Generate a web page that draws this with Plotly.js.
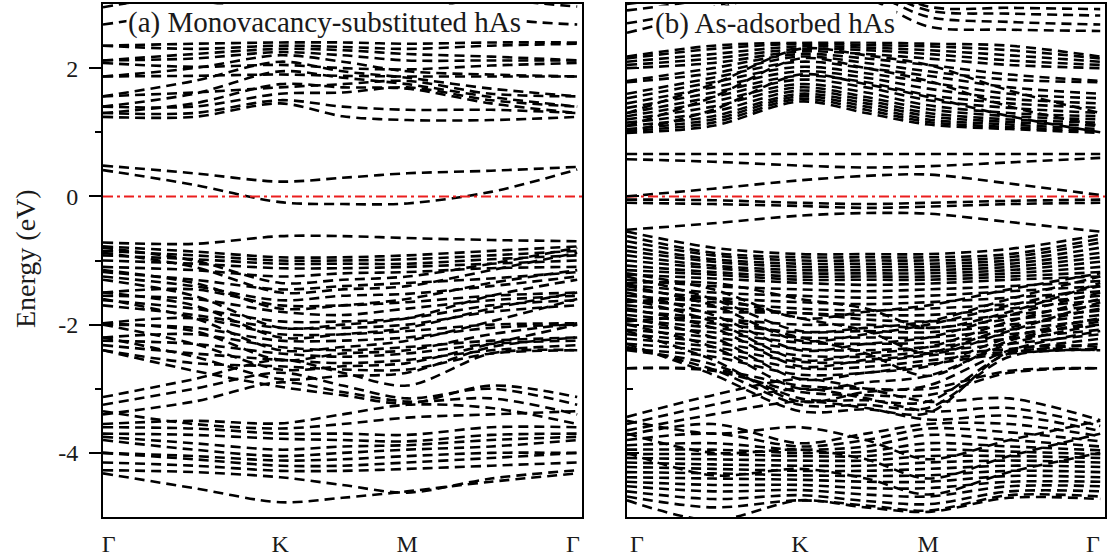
<!DOCTYPE html>
<html>
<head>
<meta charset="utf-8">
<script src="https://cdn.plot.ly/plotly-3.0.1.min.js"></script>
<style>html,body{margin:0;padding:0;background:#fff;}#chart{width:1112px;height:560px;}</style>
</head>
<body>
<div id="chart"></div>
<script>
// k-path sample points: [Γ, Γ-K, K, K-M, M, M-Γ, Γ]
const kPathA = [0, 0.19, 0.37, 0.50, 0.635, 0.81, 0.99];
const kPathB = [0, 0.18, 0.362, 0.50, 0.63, 0.80, 0.99];
const kLabels = ['Γ', 'K', 'M', 'Γ'];
const kTickA = [0.012, 0.37, 0.635, 0.981];
const kTickB = [0.021, 0.362, 0.63, 0.975];
const eTicks = [-4, -2, 0, 2];
const eTickLabels = ['-4', '-2', '0', '2'];
const fermi = [0, 0];

// (a) Monovacancy-substituted hAs — energies (eV) at the 7 k-points
const condA = [
  [1.24,1.24,1.45,1.25,1.19,1.19,1.24],
  [1.30,1.30,1.50,1.40,1.35,1.35,1.30],
  [1.30,1.45,1.75,1.70,1.68,1.45,1.30],
  [1.40,1.40,1.60,1.62,1.70,1.50,1.40],
  [1.40,1.60,1.95,1.85,1.75,1.55,1.40],
  [1.56,1.62,1.70,1.75,1.80,1.60,1.56],
  [1.56,1.80,2.10,1.95,1.85,1.68,1.56],
  [1.87,1.88,1.90,1.88,1.87,1.87,1.87],
  [1.87,2.00,2.20,2.10,1.95,1.90,1.87],
  [2.08,2.02,2.05,2.00,1.98,2.04,2.08],
  [2.12,2.15,2.25,2.20,2.12,2.12,2.12],
  [2.12,2.22,2.30,2.28,2.22,2.18,2.12],
  [2.35,2.30,2.35,2.33,2.30,2.35,2.38],
  [2.35,2.38,2.40,2.40,2.38,2.40,2.40],
  [2.68,2.90,3.20,3.30,3.20,2.80,2.68],
  [2.95,3.20,3.50,3.50,3.40,3.10,2.96]
];
const gapA = [
  [0.48,0.36,0.23,0.29,0.36,0.40,0.46],
  [0.41,0.18,-0.09,-0.12,-0.11,0.07,0.42]
];
const valA = [
  [-0.72,-0.74,-0.62,-0.62,-0.65,-0.68,-0.70],
  [-0.78,-0.86,-0.95,-0.95,-0.92,-0.85,-0.78],
  [-0.85,-0.92,-1.00,-1.00,-0.98,-0.92,-0.85],
  [-0.92,-0.98,-1.05,-1.05,-1.05,-0.98,-0.92],
  [-1.00,-1.05,-1.12,-1.12,-1.10,-1.05,-1.00],
  [-1.10,-1.15,-1.25,-1.20,-1.18,-1.12,-1.10],
  [-0.80,-1.00,-1.35,-1.30,-1.25,-1.05,-0.80],
  [-0.88,-1.10,-1.50,-1.45,-1.40,-1.15,-0.88],
  [-1.18,-1.30,-1.45,-1.40,-1.35,-1.28,-1.18],
  [-1.25,-1.40,-1.62,-1.55,-1.52,-1.40,-1.25],
  [-1.50,-1.45,-1.70,-1.70,-1.65,-1.55,-1.50],
  [-1.55,-1.60,-1.80,-1.85,-1.75,-1.62,-1.55],
  [-1.62,-1.75,-1.95,-1.95,-1.90,-1.70,-1.62],
  [-1.70,-1.85,-2.05,-2.05,-2.00,-1.80,-1.70],
  [-1.98,-1.90,-2.15,-2.15,-2.10,-2.00,-1.98],
  [-2.00,-2.05,-2.25,-2.25,-2.20,-2.05,-2.00],
  [-2.20,-2.15,-2.35,-2.40,-2.35,-2.25,-2.20],
  [-2.25,-2.30,-2.45,-2.50,-2.45,-2.30,-2.25],
  [-2.32,-2.45,-2.55,-2.60,-2.55,-2.40,-2.32],
  [-2.40,-2.60,-2.65,-2.70,-2.70,-2.45,-2.40],
  [-1.15,-1.35,-1.75,-1.70,-1.60,-1.35,-1.15],
  [-1.30,-1.55,-2.05,-2.00,-1.90,-1.55,-1.30],
  [-1.50,-1.70,-2.20,-2.15,-2.05,-1.75,-1.50],
  [-1.60,-1.90,-2.40,-2.35,-2.25,-1.95,-1.60],
  [-1.98,-2.10,-2.55,-2.45,-2.40,-2.15,-1.98],
  [-2.00,-2.30,-2.70,-2.65,-2.60,-2.30,-2.00],
  [-2.20,-2.50,-2.85,-2.80,-2.75,-2.35,-2.20],
  [-2.40,-2.72,-2.97,-3.10,-3.23,-2.95,-3.13],
  [-3.13,-2.85,-2.55,-2.75,-2.95,-2.45,-2.40],
  [-3.25,-3.00,-2.75,-2.95,-3.15,-3.00,-3.25],
  [-3.40,-3.20,-2.90,-3.05,-3.20,-3.15,-3.40],
  [-3.55,-3.50,-3.54,-3.40,-3.25,-3.30,-3.55],
  [-3.35,-3.55,-3.62,-3.55,-3.45,-3.40,-3.35],
  [-3.60,-3.62,-3.70,-3.70,-3.72,-3.60,-3.60],
  [-3.70,-3.72,-3.78,-3.80,-3.82,-3.72,-3.70],
  [-3.75,-3.85,-3.95,-3.90,-3.88,-3.80,-3.75],
  [-3.80,-3.95,-4.05,-4.00,-3.95,-3.90,-3.80],
  [-4.00,-4.05,-4.12,-4.10,-4.05,-4.00,-4.00],
  [-4.00,-4.10,-4.20,-4.20,-4.15,-4.08,-4.00],
  [-4.15,-4.20,-4.28,-4.28,-4.25,-4.20,-4.15],
  [-4.27,-4.30,-4.38,-4.50,-4.62,-4.40,-4.27],
  [-4.32,-4.55,-4.77,-4.70,-4.60,-4.45,-4.32]
];

// (b) As-adsorbed hAs
const condB = [
  [0.99,1.10,1.48,1.30,1.12,1.05,0.99],
  [1.02,1.15,1.52,1.35,1.16,1.08,1.02],
  [1.05,1.20,1.56,1.40,1.20,1.12,1.05],
  [1.10,1.25,1.60,1.45,1.25,1.16,1.10],
  [1.15,1.32,1.65,1.50,1.30,1.20,1.15],
  [1.20,1.40,1.70,1.55,1.36,1.25,1.20],
  [1.25,1.48,1.75,1.62,1.42,1.30,1.25],
  [1.30,1.55,1.82,1.70,1.50,1.38,1.30],
  [1.38,1.62,1.88,1.78,1.58,1.45,1.38],
  [1.45,1.70,1.95,1.85,1.68,1.52,1.45],
  [1.53,1.78,2.02,1.92,1.78,1.60,1.53],
  [1.60,1.85,2.10,2.00,1.88,1.70,1.60],
  [1.78,1.92,2.18,2.08,1.95,1.82,1.78],
  [1.80,2.00,2.22,2.15,2.05,1.90,1.80],
  [2.00,2.08,2.26,2.22,2.15,2.05,2.00],
  [2.05,2.15,2.30,2.28,2.22,2.12,2.05],
  [2.10,2.22,2.34,2.32,2.28,2.20,2.10],
  [2.15,2.30,2.38,2.36,2.34,2.28,2.15],
  [2.18,2.35,2.40,2.40,2.38,2.35,2.18],
  [1.00,1.35,1.90,1.75,1.55,1.25,1.00],
  [1.10,1.55,2.15,2.00,1.80,1.40,1.10],
  [1.30,1.75,2.30,2.20,2.05,1.65,1.30],
  [2.55,2.90,3.30,3.10,2.65,2.60,2.58],
  [2.70,2.95,3.40,3.20,2.80,2.72,2.68],
  [2.90,3.10,3.50,3.30,2.90,2.85,2.82],
  [3.00,3.20,3.60,3.40,2.96,2.94,2.92]
];
const gapB = [
  [0.66,0.66,0.66,0.66,0.66,0.66,0.66],
  [0.58,0.54,0.48,0.45,0.47,0.53,0.60],
  [0.00,0.12,0.25,0.32,0.34,0.20,0.02],
  [-0.05,-0.06,-0.10,-0.12,-0.10,-0.07,-0.05],
  [-0.10,-0.12,-0.15,-0.18,-0.16,-0.12,-0.10],
  [-0.52,-0.42,-0.30,-0.26,-0.27,-0.40,-0.55]
];
const valB = [
  [-0.55,-0.80,-0.90,-0.90,-0.90,-0.82,-0.60],
  [-0.62,-0.88,-0.95,-0.95,-0.95,-0.90,-0.66],
  [-0.70,-0.92,-1.00,-1.00,-1.00,-0.95,-0.72],
  [-0.78,-0.98,-1.05,-1.05,-1.05,-1.00,-0.80],
  [-0.85,-1.02,-1.10,-1.10,-1.10,-1.05,-0.88],
  [-0.92,-1.08,-1.15,-1.15,-1.15,-1.10,-0.95],
  [-1.00,-1.12,-1.20,-1.20,-1.20,-1.15,-1.02],
  [-1.08,-1.18,-1.25,-1.25,-1.25,-1.20,-1.10],
  [-1.15,-1.22,-1.30,-1.30,-1.30,-1.25,-1.18],
  [-1.22,-1.28,-1.35,-1.38,-1.36,-1.30,-1.25],
  [-1.30,-1.40,-1.45,-1.48,-1.45,-1.40,-1.32],
  [-1.38,-1.50,-1.55,-1.58,-1.55,-1.48,-1.40],
  [-1.45,-1.58,-1.65,-1.68,-1.65,-1.58,-1.48],
  [-1.55,-1.65,-1.75,-1.78,-1.75,-1.68,-1.55],
  [-1.62,-1.72,-1.82,-1.85,-1.85,-1.75,-1.62],
  [-1.70,-1.80,-1.82,-1.92,-1.95,-1.85,-1.70],
  [-1.78,-1.90,-2.00,-2.00,-2.05,-1.92,-1.78],
  [-1.85,-1.98,-2.12,-2.10,-2.12,-2.00,-1.85],
  [-1.92,-2.05,-2.20,-2.20,-2.20,-2.08,-1.92],
  [-2.00,-2.12,-2.28,-2.30,-2.28,-2.15,-2.00],
  [-2.08,-2.20,-2.38,-2.40,-2.35,-2.22,-2.08],
  [-2.15,-2.28,-2.48,-2.50,-2.42,-2.30,-2.15],
  [-2.22,-2.35,-2.58,-2.58,-2.48,-2.38,-2.22],
  [-2.30,-2.42,-2.68,-2.66,-2.56,-2.42,-2.30],
  [-2.38,-2.50,-2.78,-2.75,-2.62,-2.45,-2.38],
  [-1.20,-1.45,-1.90,-1.80,-1.70,-1.45,-1.20],
  [-1.40,-1.70,-2.25,-2.15,-2.00,-1.70,-1.40],
  [-1.60,-1.95,-2.55,-2.45,-2.35,-1.95,-1.60],
  [-1.90,-2.20,-2.85,-2.75,-2.65,-2.20,-1.90],
  [-1.25,-1.60,-2.10,-2.05,-1.95,-1.60,-1.25],
  [-1.50,-1.85,-2.40,-2.30,-2.20,-1.85,-1.50],
  [-1.75,-2.05,-2.65,-2.55,-2.45,-2.05,-1.75],
  [-2.00,-2.35,-3.00,-2.90,-2.80,-2.30,-2.00],
  [-2.10,-2.55,-3.20,-3.05,-2.95,-2.40,-2.10],
  [-1.35,-1.35,-1.60,-1.75,-2.05,-1.80,-1.35],
  [-1.65,-1.60,-1.90,-2.10,-2.45,-2.10,-1.65],
  [-1.95,-1.90,-2.20,-2.45,-2.80,-2.25,-1.95],
  [-2.68,-2.70,-2.95,-3.00,-3.00,-2.72,-2.68],
  [-2.68,-2.72,-3.05,-3.10,-3.10,-2.75,-2.68],
  [-2.40,-2.62,-3.15,-3.18,-3.20,-2.45,-2.40],
  [-2.35,-2.70,-3.25,-3.25,-3.30,-2.50,-2.40],
  [-2.30,-2.78,-3.35,-3.32,-3.38,-2.42,-2.35],
  [-3.44,-3.10,-2.85,-3.00,-3.20,-3.15,-3.49],
  [-3.55,-3.25,-3.00,-3.15,-3.35,-3.30,-3.58],
  [-3.65,-3.40,-3.20,-3.30,-3.48,-3.42,-3.66],
  [-3.72,-3.55,-3.85,-3.70,-3.55,-3.55,-3.74],
  [-3.80,-3.70,-3.90,-3.80,-3.62,-3.68,-3.82],
  [-3.88,-3.85,-3.95,-3.90,-3.72,-3.80,-3.90],
  [-3.95,-3.95,-4.00,-3.98,-3.85,-3.90,-3.96],
  [-4.02,-4.02,-4.05,-4.05,-3.95,-3.98,-4.02],
  [-4.08,-4.10,-4.12,-4.12,-4.05,-4.05,-4.08],
  [-4.15,-4.18,-4.20,-4.20,-4.15,-4.12,-4.15],
  [-4.22,-4.25,-4.28,-4.28,-4.25,-4.20,-4.22],
  [-4.30,-4.32,-4.35,-4.36,-4.35,-4.28,-4.30],
  [-4.38,-4.40,-4.42,-4.45,-4.45,-4.36,-4.38],
  [-4.45,-4.50,-4.50,-4.55,-4.55,-4.45,-4.45],
  [-4.52,-4.60,-4.58,-4.65,-4.68,-4.52,-4.52],
  [-4.60,-4.72,-4.66,-4.75,-4.80,-4.60,-4.60],
  [-4.68,-4.85,-4.74,-4.82,-4.90,-4.66,-4.68],
  [-4.74,-5.05,-4.74,-4.85,-4.92,-4.70,-4.72],
  [-3.50,-3.70,-3.60,-3.80,-4.10,-3.80,-3.50],
  [-3.70,-4.00,-3.95,-4.10,-4.40,-4.05,-3.70],
  [-4.00,-4.35,-4.25,-4.40,-4.65,-4.30,-4.00]
];

const traces = [];
function addBands(list, k, xa, ya) {
  list.forEach(e => traces.push({
    x: k, y: e, xaxis: xa, yaxis: ya, type: 'scatter', mode: 'lines',
    line: {color: '#000', width: 2.6, dash: '10px,6px', shape: 'spline', smoothing: 0.9},
    hoverinfo: 'skip', showlegend: false
  }));
}
addBands(condA, kPathA, 'x', 'y');
addBands(gapA, kPathA, 'x', 'y');
addBands(valA, kPathA, 'x', 'y');
addBands(condB, kPathB, 'x2', 'y2');
addBands(gapB, kPathB, 'x2', 'y2');
addBands(valB, kPathB, 'x2', 'y2');
[['x','y'],['x2','y2']].forEach(([xa, ya]) => traces.push({
  x: [0, 1], y: fermi, xaxis: xa, yaxis: ya, type: 'scatter', mode: 'lines',
  line: {color: 'rgb(235,30,30)', width: 2, dash: '10px,4px,3px,4px'},
  hoverinfo: 'skip', showlegend: false
}));

const serif = 'Liberation Serif, Times New Roman, serif';
const txt = '#1a1a1a';
const yDomain = [43/560, 556/560];
const baseX = {
  range: [0, 1], ticks: '', showline: true, mirror: true, linewidth: 2, linecolor: '#000',
  showgrid: false, zeroline: false, ticktext: kLabels, tickmode: 'array',
  tickfont: {family: serif, size: 24, color: txt}, ticklabelstandoff: 4, fixedrange: true
};
const baseY = {
  range: [-5, 3], showline: true, mirror: true, linewidth: 2, linecolor: '#000',
  showgrid: false, zeroline: false, tickmode: 'array', tickvals: eTicks, ticktext: eTickLabels,
  ticklen: 12, tickwidth: 2, tickcolor: '#000', domain: yDomain,
  tickfont: {family: serif, size: 24, color: txt}, fixedrange: true
};
const layout = {
  width: 1112, height: 560, margin: {l: 0, r: 0, t: 0, b: 0},
  paper_bgcolor: '#fff', plot_bgcolor: '#fff', showlegend: false,
  xaxis: Object.assign({}, baseX, {domain: [103/1112, 582/1112], tickvals: kTickA, anchor: 'y'}),
  xaxis2: Object.assign({}, baseX, {domain: [627/1112, 1105/1112], tickvals: kTickB, anchor: 'y2'}),
  yaxis: Object.assign({}, baseY, {anchor: 'x', ticks: 'outside', ticklabelstandoff: 6,
    minor: {tickvals: [-3, -1, 1], ticks: 'outside', ticklen: 6, tickwidth: 2, tickcolor: '#000'}}),
  yaxis2: Object.assign({}, baseY, {anchor: 'x2', ticks: 'inside', showticklabels: false,
    minor: {tickvals: [-3, -1, 1], ticks: 'inside', ticklen: 6, tickwidth: 2, tickcolor: '#000'}}),
  annotations: [
    {text: '(a) Monovacancy-substituted hAs', xref: 'paper', yref: 'paper',
     x: 126/1112, y: (560-23)/560, xanchor: 'left', yanchor: 'middle', showarrow: false,
     bgcolor: '#fff', borderpad: 1, font: {family: serif, size: 29, color: txt}},
    {text: '(b) As-adsorbed hAs', xref: 'paper', yref: 'paper',
     x: 653/1112, y: (560-24)/560, xanchor: 'left', yanchor: 'middle', showarrow: false,
     bgcolor: '#fff', borderpad: 1, font: {family: serif, size: 29, color: txt}},
    {text: 'Energy (eV)', xref: 'paper', yref: 'paper', x: 25/1112, y: (560-259)/560,
     xanchor: 'center', yanchor: 'middle', textangle: -90, showarrow: false,
     font: {family: serif, size: 28, color: txt}}
  ]
};
Plotly.newPlot('chart', traces, layout, {displayModeBar: false, staticPlot: true});
</script>
</body>
</html>
